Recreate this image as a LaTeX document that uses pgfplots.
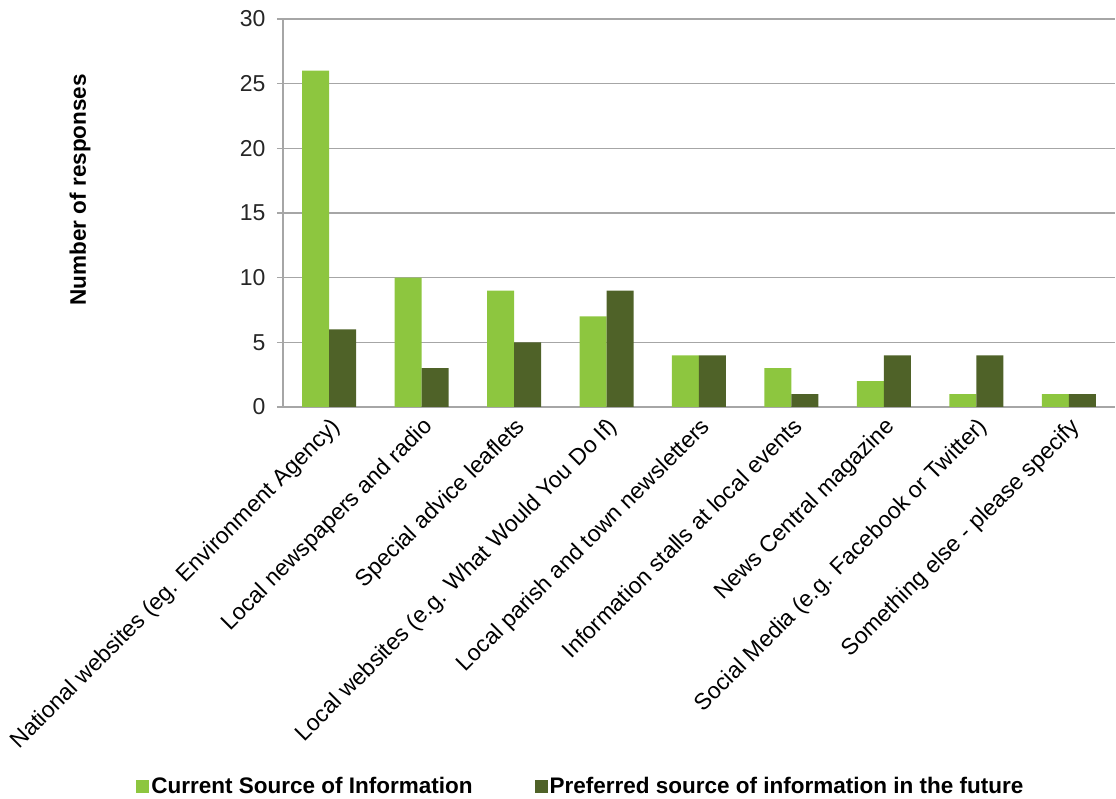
\documentclass[border=0pt]{standalone}
\usepackage{fontspec}
\setmainfont{Liberation Sans}
\usepackage{pgfplots}
\pgfplotsset{compat=1.18}
\definecolor{cur}{HTML}{8DC63F}
\definecolor{pref}{HTML}{4F6228}
\definecolor{gridc}{HTML}{A6A6A6}
\pgfplotsset{sqlegend/.style={legend image code/.code={\fill[##1] (0pt,-6.5pt) rectangle (13pt,6.5pt);}}}
\begin{document}
\begin{tikzpicture}
\path[use as bounding box] (-283pt,-392pt) rectangle (833pt,407pt);
\begin{axis}[
  at={(0pt,0pt)}, anchor=south west,
  scale only axis, width=832pt, height=388pt,
  ybar=0pt, bar width=27pt,
  xmin=-0.5, xmax=8.5, ymin=0, ymax=30,
  ytick={0,5,...,30},
  xtick={0,...,8},
  xticklabels={{National websites (eg. Environment Agency)},{Local newspapers and radio},{Special advice leaflets},{Local websites (e.g. What Would You Do If)},{Local parish and town newsletters},{Information stalls at local events},{News Central magazine},{Social Media (e.g. Facebook or Twitter)},{Something else - please specify}},
  major x tick style={draw=none},
  extra x ticks={-0.5,0.5,...,8.5},
  extra x tick labels={},
  extra x tick style={grid=none, major tick length=7pt, tick style={draw=gridc, line width=1.2pt}},
  axis x line*=bottom, axis y line*=left,
  axis line style={draw=gridc, line width=1.2pt, -},
  ymajorgrids, major grid style={draw=gridc, line width=1.2pt},
  tick align=outside,
  major tick length=6pt,
  y tick style={draw=gridc, line width=1.2pt},
  /pgf/number format/assume math mode=true,
  yticklabel style={font=\fontsize{23}{27}\selectfont, text=black!85, xshift=-8pt},
  xticklabel style={font=\fontsize{23}{27}\selectfont, rotate=45, anchor=north east, inner sep=2pt, text=black},
  ylabel={Number of responses},
  ylabel style={font=\bfseries\fontsize{22.5}{27}\selectfont, at={(axis description cs:-0.244,0.56)}, anchor=center},
  legend style={at={(axis description cs:0.358,-0.977)}, anchor=center, draw=none, fill=none,
    legend columns=2, font=\bfseries\fontsize{22.5}{27}\selectfont,
    /tikz/every even column/.append style={column sep=60pt}},
]
\addplot[fill=cur, draw=none, sqlegend] coordinates {(0,26) (1,10) (2,9) (3,7) (4,4) (5,3) (6,2) (7,1) (8,1)};
\addplot[fill=pref, draw=none, sqlegend] coordinates {(0,6) (1,3) (2,5) (3,9) (4,4) (5,1) (6,4) (7,4) (8,1)};
\legend{Current Source of Information, Preferred source of information in the future}
\end{axis}
\end{tikzpicture}
\end{document}
